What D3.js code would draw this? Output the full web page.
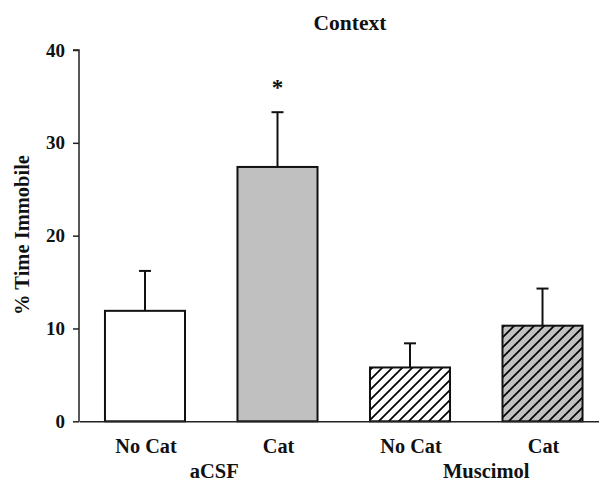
<!DOCTYPE html>
<html>
<head>
<meta charset="utf-8">
<script src="https://cdn.jsdelivr.net/npm/d3@7"></script>
<style>
  html, body { margin: 0; padding: 0; background: #fff; }
  svg { display: block; }
  text { font-family: "Liberation Serif", "Times New Roman", serif; font-weight: bold; fill: #111; }
</style>
</head>
<body>
<svg id="chart" width="599" height="486"></svg>
<script>
// ---- data ----
const categories = ["No Cat", "Cat", "No Cat ", "Cat "];
const groups = ["aCSF", "aCSF", "Muscimol", "Muscimol"];
const groupNames = ["aCSF", "Muscimol"];
const means = [11.9, 27.4, 5.8, 10.3];
const sems = [4.3, 5.9, 2.6, 4.0];
const significant = [false, true, false, false];
const yTicks = [0, 10, 20, 30, 40];
const title = "Context";
const yLabel = "% Time Immobile";

// ---- layout ----
const svg = d3.select("#chart");
const x = d3.scaleBand().domain(categories).range([79, 608.5]).paddingInner(0.396).paddingOuter(0.196);
const y = d3.scaleLinear().domain([0, 40]).range([421.3, 50]);

const defs = svg.append("defs");
function hatch(id, bg) {
  const p = defs.append("pattern").attr("id", id).attr("patternUnits", "userSpaceOnUse")
    .attr("width", 10).attr("height", 10);
  p.append("rect").attr("width", 10).attr("height", 10).attr("fill", bg);
  p.append("path").attr("d", "M-1,11 L11,-1 M-6,6 L6,-6 M4,16 L16,4")
    .attr("stroke", "#000").attr("stroke-width", 1.7);
}
hatch("hatchWhite", "#fff");
hatch("hatchGray", "#c0c0c0");
const fills = ["#ffffff", "#c0c0c0", "url(#hatchWhite)", "url(#hatchGray)"];

// bars
svg.selectAll("rect.bar").data(categories).join("rect").attr("class", "bar")
  .attr("x", d => x(d)).attr("width", x.bandwidth())
  .attr("y", (d, i) => y(means[i])).attr("height", (d, i) => y(0) - y(means[i]))
  .attr("fill", (d, i) => fills[i]).attr("stroke", "#111").attr("stroke-width", 2);

// error bars
const cx = d => x(d) + x.bandwidth() / 2;
svg.selectAll("line.err").data(categories).join("line").attr("class", "err")
  .attr("x1", cx).attr("x2", cx)
  .attr("y1", (d, i) => y(means[i])).attr("y2", (d, i) => y(means[i] + sems[i]))
  .attr("stroke", "#111").attr("stroke-width", 2);
svg.selectAll("line.cap").data(categories).join("line").attr("class", "cap")
  .attr("x1", d => cx(d) - 6).attr("x2", d => cx(d) + 6)
  .attr("y1", (d, i) => y(means[i] + sems[i])).attr("y2", (d, i) => y(means[i] + sems[i]))
  .attr("stroke", "#111").attr("stroke-width", 2);

// significance
svg.selectAll("text.sig").data(categories.filter((d, i) => significant[i])).join("text").attr("class", "sig")
  .attr("x", cx).attr("y", d => y(means[categories.indexOf(d)] + sems[categories.indexOf(d)]) - 17)
  .attr("text-anchor", "middle").attr("font-size", 23).text("*");

// axes
const yAxis = d3.axisLeft(y).tickValues(yTicks).tickSize(6).tickPadding(8).tickFormat(d3.format("d"));
const gy = svg.append("g").attr("transform", "translate(79,0)").call(yAxis);
gy.select(".domain").attr("stroke", "#222").attr("stroke-width", 1.5).attr("d", `M-6,${y(40)}H0V${y(0)}`);
gy.selectAll(".tick line").attr("stroke", "#222").attr("stroke-width", 1.5);
gy.selectAll(".tick text").attr("font-size", 19).attr("font-family", "Liberation Serif").attr("font-weight", "bold").attr("fill", "#111");

const xAxis = d3.axisBottom(x).tickSize(0).tickPadding(17.5);
const gx = svg.append("g").attr("transform", `translate(0,${y(0)})`).call(xAxis);
gx.select(".domain").attr("stroke", "#222").attr("stroke-width", 1.5);
gx.selectAll(".tick text").attr("font-size", 20.3).attr("font-family", "Liberation Serif").attr("font-weight", "bold").attr("fill", "#111").attr("dx", 1);

// group labels
const groupX = groupNames.map(g => {
  const members = categories.filter((c, i) => groups[i] === g);
  return d3.mean(members, cx);
});
const groupOffset = [3, 10];
svg.selectAll("text.group").data(groupNames).join("text").attr("class", "group")
  .attr("x", (d, i) => groupX[i] + groupOffset[i]).attr("y", 478)
  .attr("text-anchor", "middle").attr("font-size", 20.5).text(d => d);

// title
svg.append("text").attr("x", 350).attr("y", 30).attr("text-anchor", "middle").attr("font-size", 21.5).text(title);

// y label
svg.append("text").attr("transform", "translate(29,235) rotate(-90)").attr("text-anchor", "middle")
  .attr("font-size", 20.5).text(yLabel);
</script>
</body>
</html>
